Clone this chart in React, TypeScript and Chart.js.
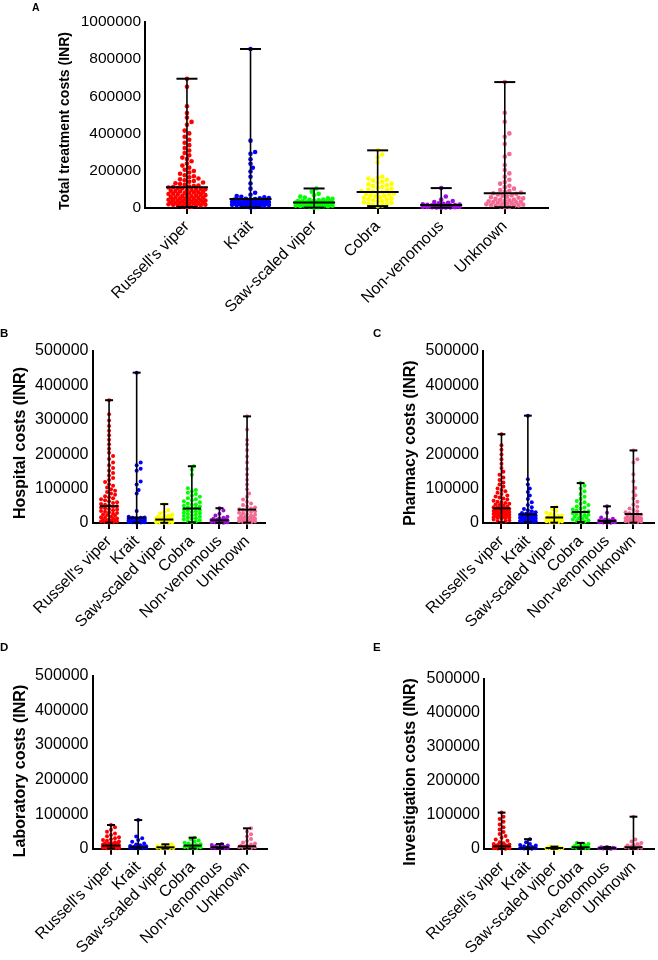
import React, { useEffect, useRef } from "react";
import { Chart, registerables } from "chart.js";
Chart.register(...registerables);

const FONT = "'Liberation Sans', Arial, Helvetica, sans-serif";

const categories = ["Russell's viper", "Krait", "Saw-scaled viper", "Cobra", "Non-venomous", "Unknown"];
const colorsTotal = ["#ff0000", "#0000ff", "#00ff00", "#ffff00", "#9b10d8", "#f26b93"];
const colorsSub = ["#ff0000", "#0000ff", "#ffff00", "#00ff00", "#9b10d8", "#f26b93"];

const ticksTotal = [0, 200000, 400000, 600000, 800000, 1000000];
const ticksSub = [0, 100000, 200000, 300000, 400000, 500000];

// ---- A: total treatment costs ----
const totalRV = [695000, 652000, 547000, 511000, 486000, 463000, 447000, 416000, 401000, 383000, 367000, 351000, 338000, 322000, 309000, 296000, 284000, 271000, 263000, 251000, 239000, 228000, 217000, 206000, 199000, 191000, 184000, 176000, 171000, 165000, 159000, 154000, 149000, 145000, 141000, 137000, 133000, 129000, 125000, 121000, 118000, 115000, 112000, 110000, 107000, 105000, 103000, 101000, 99000, 97000, 95000, 93000, 91000, 89000, 87000, 85000, 83000, 81000, 79000, 77000, 75000, 73000, 71000, 69000, 67000, 65000, 63000, 61000, 59000, 57000, 55000, 54000, 52000, 50000, 49000, 47000, 45000, 44000, 42000, 40000, 39000, 37000, 36000, 34000, 33000, 31000, 30000, 28000, 27000, 26000, 24000, 23000, 21000, 20000, 18000, 17000, 15000, 13000, 11000, 9000, 7000, 5000];
const totalKrait = [855000, 362000, 301000, 292000, 262000, 238000, 216000, 196000, 168000, 132000, 104000, 82000, 71000, 64000, 60000, 57000, 54000, 52000, 50000, 48000, 47000, 45000, 44000, 42000, 41000, 40000, 38000, 37000, 36000, 34000, 33000, 32000, 30000, 29000, 28000, 27000, 26000, 25000, 24000, 23000, 22000, 21000, 20000, 19000, 18500, 18000, 17000, 16000, 15000, 14000, 12000, 10000, 8000, 6000, 3000];
const totalSSV = [105000, 88000, 76000, 68000, 61000, 56000, 52000, 49000, 46000, 44000, 42000, 40000, 38000, 37000, 36000, 35000, 34000, 33000, 32000, 31000, 30000, 29000, 28000, 27000, 26000, 25000, 24000, 23000, 22000, 21000, 20000, 19000, 18000, 17000, 16000, 15000, 14000, 13000, 12000, 11000, 10000, 9000, 8000, 6000, 4000, 2000];
const totalCobra = [310000, 288000, 272000, 245000, 168000, 163000, 158000, 152000, 147000, 141000, 136000, 131000, 127000, 122000, 118000, 113000, 108000, 104000, 99000, 95000, 91000, 88000, 85000, 82000, 78000, 75000, 72000, 68000, 65000, 62000, 58000, 55000, 52000, 48000, 45000, 42000, 38000, 35000, 31000, 28000, 24000, 21000, 17000, 14000, 10000];
const totalNV = [107000, 62000, 45000, 38000, 32000, 28000, 25000, 22000, 20000, 18000, 17000, 16000, 15000, 14000, 13000, 12000, 11500, 11000, 10000, 9500, 9000, 8000, 7500, 7000, 6500, 6000, 5500, 5000, 4500, 4000, 3500, 3000, 2500, 2000];
const totalUnknown = [677000, 512000, 464000, 401000, 383000, 344000, 290000, 276000, 231000, 204000, 186000, 168000, 152000, 140000, 131000, 120000, 112000, 104000, 97000, 92000, 87000, 83000, 79000, 76000, 72000, 68000, 65000, 61000, 58000, 55000, 52000, 49000, 46000, 44000, 41000, 39000, 36000, 34000, 32000, 30000, 28000, 26000, 24000, 22000, 20000, 18000, 16000, 14000, 12000, 10000, 8000, 6000, 4000];
const totalMedian = [112000, 48000, 30000, 86000, 16000, 79000];
const totalMin = [5000, 3000, 2000, 10000, 2000, 4000];
const totalMax = [695000, 855000, 105000, 310000, 107000, 677000];

// ---- B: hospital costs ----
const hospRV = [357000, 316000, 298000, 282000, 268000, 255000, 242000, 229000, 216000, 204000, 195000, 186000, 176000, 168000, 160000, 152000, 145000, 138000, 131000, 125000, 119000, 113000, 108000, 103000, 98000, 94000, 90000, 86000, 82000, 78000, 75000, 72000, 69000, 66000, 63000, 60000, 58000, 55000, 53000, 51000, 49000, 47000, 45000, 43000, 41000, 39000, 37000, 35000, 33000, 31000, 29000, 27000, 25000, 23000, 21000, 19000, 17000, 15000, 13000, 12000, 10000, 9000, 8000, 7000, 6000, 5000, 4000, 3000, 2000, 1000];
const hospKrait = [437000, 176000, 168000, 158000, 152000, 121000, 112000, 96000, 86000, 35000, 18000, 16000, 15500, 15000, 14500, 14000, 13500, 13000, 12500, 12000, 11500, 11000, 10500, 10000, 9500, 9000, 8500, 8000, 7500, 7000, 6500, 6000, 5500, 5000, 4500, 4000, 3500, 3000, 2500, 2000, 1500, 1000];
const hospSSV = [55000, 38000, 32000, 28000, 25000, 22000, 20000, 18000, 17000, 16000, 15000, 14000, 13000, 12000, 11000, 10500, 10000, 9500, 9000, 8000, 7500, 7000, 6000, 5500, 5000, 4500, 4000, 3500, 3000, 2500, 2000, 1500, 1000, 500];
const hospCobra = [165000, 155000, 140000, 101000, 96000, 92000, 88000, 84000, 80000, 76000, 72000, 69000, 66000, 63000, 60000, 57000, 54000, 52000, 50000, 48000, 46000, 44000, 42000, 40000, 38000, 36000, 34000, 32000, 30000, 28000, 26000, 24000, 22000, 20000, 18000, 16000, 14000, 12000, 10000, 8000, 6000, 4000, 2000];
const hospNV = [43000, 36000, 27000, 22000, 18000, 15000, 13000, 12000, 11000, 10000, 9000, 8500, 8000, 7500, 7000, 6000, 5500, 5000, 4500, 4000, 3000, 2500, 2000, 1000, 500];
const hospUnknown = [310000, 272000, 241000, 228000, 212000, 193000, 176000, 157000, 141000, 126000, 112000, 98000, 86000, 76000, 68000, 62000, 57000, 52000, 48000, 45000, 42000, 40000, 38000, 36000, 34000, 32000, 30000, 28000, 26000, 24000, 22000, 20000, 18000, 16000, 15000, 14000, 13000, 12000, 11000, 10000, 9000, 8000, 7000, 6000, 5000, 4000, 3000, 2000, 1000];
const hospMedian = [49000, 15000, 10000, 42000, 8000, 39000];
const hospMin = [1000, 1000, 500, 2000, 500, 1000];
const hospMax = [357000, 437000, 55000, 165000, 43000, 310000];

// ---- C: pharmacy costs ----
const pharmRV = [258000, 226000, 213000, 199000, 185000, 172000, 160000, 149000, 140000, 132000, 125000, 118000, 112000, 106000, 100000, 96000, 92000, 88000, 84000, 80000, 77000, 74000, 71000, 68000, 65000, 62000, 60000, 58000, 56000, 54000, 52000, 50000, 48000, 46000, 44000, 43000, 42000, 41000, 40000, 38000, 37000, 36000, 35000, 34000, 33000, 32000, 31000, 30000, 29000, 28000, 27000, 26000, 25000, 24000, 23000, 22000, 21000, 20000, 19000, 18000, 17000, 16000, 15000, 14000, 12000, 10000, 8000, 6000, 4000, 2000];
const pharmKrait = [312000, 127000, 112000, 100000, 90000, 80000, 70000, 60000, 52000, 46000, 41000, 37000, 34000, 31000, 29000, 27000, 26000, 25000, 24000, 23000, 22000, 21000, 20000, 19000, 18000, 17000, 16000, 15000, 14000, 13000, 12000, 11000, 10000, 9000, 8000, 7000, 6000, 5000, 4000, 3000, 2000];
const pharmSSV = [46500, 40000, 35000, 30000, 27000, 24000, 22000, 20000, 18000, 17000, 16000, 15000, 14000, 13000, 12000, 11000, 10000, 9000, 8000, 7000, 6000, 5000, 4000, 3000, 2000, 1000];
const pharmCobra = [116000, 108000, 100000, 92000, 84000, 76000, 70000, 64000, 60000, 56000, 52000, 48000, 45000, 42000, 39000, 36000, 34000, 32000, 30000, 28000, 26000, 24000, 22000, 20000, 18000, 16000, 14000, 12000, 10000, 8000, 6000, 4000, 3000];
const pharmNV = [48500, 30000, 16000, 12000, 10000, 8000, 7000, 6500, 6000, 5500, 5000, 4500, 4000, 3500, 3000, 2500, 2000, 1500, 1000, 500];
const pharmUnknown = [211000, 185000, 176000, 142000, 121000, 102000, 91000, 81000, 71000, 62000, 54000, 47000, 42000, 38000, 34000, 31000, 28000, 26000, 24000, 22000, 20000, 18000, 16000, 15000, 14000, 13000, 12000, 11000, 10000, 9000, 8000, 7000, 6000, 5000, 4000, 3000, 2000, 1000];
const pharmMedian = [42700, 25000, 16000, 32000, 6000, 26000];
const pharmMin = [2000, 2000, 1000, 3000, 500, 1000];
const pharmMax = [258000, 312000, 46500, 116000, 48500, 211000];

// ---- D: laboratory costs ----
const labRV = [68600, 62000, 55000, 49000, 44000, 40000, 36000, 33000, 30000, 27000, 25000, 23000, 21000, 19000, 17000, 16000, 15000, 14000, 13000, 12000, 11000, 10500, 10000, 9500, 9000, 8500, 8000, 7500, 7000, 6500, 6000, 5500, 5000, 4500, 4000, 3500, 3000, 2500, 2000, 1500, 1000, 500];
const labKrait = [83000, 35000, 30000, 25000, 20000, 15000, 12000, 10000, 8000, 7000, 6000, 5500, 5000, 4500, 4000, 3500, 3000, 2500, 2000, 1500, 1000, 500];
const labSSV = [12700, 11000, 9000, 8000, 7000, 6000, 5500, 5000, 4500, 4000, 3500, 3000, 2500, 2000, 1500, 1000, 500];
const labCobra = [32000, 28000, 24000, 20000, 17000, 15000, 13000, 11000, 10000, 9000, 8000, 7000, 6000, 5000, 4000, 3000, 2000, 1000];
const labNV = [13600, 11000, 9000, 7500, 6000, 5000, 4500, 4000, 3500, 3000, 2500, 2000, 1500, 1000, 500];
const labUnknown = [59000, 50000, 42000, 35000, 28000, 22000, 18000, 15000, 12000, 10000, 9000, 8000, 7000, 6000, 5000, 4000, 3000, 2000, 1000];
const labMedian = [9000, 4000, 4000, 9000, 4000, 7000];
const labMin = [500, 500, 500, 500, 500, 500];
const labMax = [68600, 83000, 12700, 32000, 13600, 59000];

// ---- E: investigation costs ----
const invRV = [107000, 95000, 88000, 80000, 72000, 64000, 57000, 50000, 44000, 38000, 33000, 28000, 24000, 20000, 17000, 15000, 13000, 12000, 11000, 10000, 9000, 8500, 8000, 7500, 7000, 6500, 6000, 5500, 5000, 4500, 4000, 3500, 3000, 2500, 2000, 1500, 1000, 500];
const invKrait = [29000, 20000, 15000, 12000, 10000, 8000, 6000, 5000, 4500, 4000, 3500, 3000, 2500, 2000, 1500, 1000, 500];
const invSSV = [7000, 6000, 5000, 4500, 4000, 3500, 3000, 2500, 2000, 1500, 1000, 500];
const invCobra = [18000, 15000, 12000, 10000, 9000, 8000, 7000, 6000, 5000, 4000, 3000, 2000, 1000];
const invNV = [6000, 5000, 4000, 3500, 3000, 2500, 2000, 1500, 1000, 500];
const invUnknown = [95000, 28000, 22000, 18000, 15000, 12000, 10000, 8000, 7000, 6000, 5000, 4000, 3000, 2000, 1000];
const invMedian = [8000, 3000, 3000, 5000, 2500, 5000];
const invMin = [500, 500, 500, 500, 500, 500];
const invMax = [107000, 29000, 7000, 18000, 6000, 95000];

interface PanelSpec {
  key: string;
  title: string;
  titleSize: number;
  titleX: number;
  titleY: number;
  series: number[][];
  colors: string[];
  median: number[];
  min: number[];
  max: number[];
  ticks: number[];
  canvas: { left: number; top: number; w: number; h: number };
  axis: { left: number; right: number; top: number; bottom: number };
  xMin: number;
  xMax: number;
  tickSize: number;
  xLabelSize: number;
  radius: number;
  swarmHalf: number;
  medianHalf: number;
  capHalf: number;
}

const panels: PanelSpec[] = [
  {
    key: "A", title: "Total treatment costs (INR)", titleSize: 14, titleX: 65, titleY: 121,
    series: [totalRV, totalKrait, totalSSV, totalCobra, totalNV, totalUnknown], colors: colorsTotal,
    median: totalMedian, min: totalMin, max: totalMax, ticks: ticksTotal,
    canvas: { left: 0, top: 0, w: 658, h: 345 },
    axis: { left: 145, right: 548, top: 22, bottom: 208 },
    xMin: -0.66, xMax: 5.68, tickSize: 15.5, xLabelSize: 16, radius: 2.3, swarmHalf: 19, medianHalf: 21, capHalf: 10.5,
  },
  {
    key: "B", title: "Hospital costs (INR)", titleSize: 16, titleX: 21, titleY: 443,
    series: [hospRV, hospKrait, hospSSV, hospCobra, hospNV, hospUnknown], colors: colorsSub,
    median: hospMedian, min: hospMin, max: hospMax, ticks: ticksSub,
    canvas: { left: 0, top: 300, w: 330, h: 360 },
    axis: { left: 92.5, right: 265, top: 351, bottom: 523 },
    xMin: -0.6, xMax: 5.65, tickSize: 16, xLabelSize: 16, radius: 2, swarmHalf: 8, medianHalf: 9, capHalf: 4,
  },
  {
    key: "C", title: "Pharmacy costs (INR)", titleSize: 16, titleX: 411, titleY: 443,
    series: [pharmRV, pharmKrait, pharmSSV, pharmCobra, pharmNV, pharmUnknown], colors: colorsSub,
    median: pharmMedian, min: pharmMin, max: pharmMax, ticks: ticksSub,
    canvas: { left: 330, top: 300, w: 328, h: 360 },
    axis: { left: 483, right: 658, top: 351, bottom: 523 },
    xMin: -0.7, xMax: 5.78, tickSize: 16, xLabelSize: 16, radius: 2, swarmHalf: 8, medianHalf: 9, capHalf: 4,
  },
  {
    key: "D", title: "Laboratory costs (INR)", titleSize: 16, titleX: 21, titleY: 771,
    series: [labRV, labKrait, labSSV, labCobra, labNV, labUnknown], colors: colorsSub,
    median: labMedian, min: labMin, max: labMax, ticks: ticksSub,
    canvas: { left: 0, top: 620, w: 330, h: 340 },
    axis: { left: 92.5, right: 267, top: 676, bottom: 848.7 },
    xMin: -0.68, xMax: 5.735, tickSize: 16, xLabelSize: 16, radius: 2, swarmHalf: 8, medianHalf: 9, capHalf: 4,
  },
  {
    key: "E", title: "Investigation costs (INR)", titleSize: 16, titleX: 411, titleY: 772,
    series: [invRV, invKrait, invSSV, invCobra, invNV, invUnknown], colors: colorsSub,
    median: invMedian, min: invMin, max: invMax, ticks: ticksSub,
    canvas: { left: 330, top: 620, w: 328, h: 340 },
    axis: { left: 484, right: 658, top: 679, bottom: 849 },
    xMin: -0.667, xMax: 5.778, tickSize: 16, xLabelSize: 16, radius: 2, swarmHalf: 8, medianHalf: 9, capHalf: 4,
  },
];

const letters = [
  { text: "A", left: 32, top: 1.5, size: 10.5 },
  { text: "B", left: 0, top: 327.5, size: 11.5 },
  { text: "C", left: 373, top: 327.5, size: 11.5 },
  { text: "D", left: 0, top: 641.5, size: 11.5 },
  { text: "E", left: 373, top: 641.5, size: 11.5 },
];

function beeswarm(values: number[], pxPerVal: number, d: number, maxHalf: number): number[] {
  const order = values.map((_, i) => i).sort((a, b) => values[a] - values[b]);
  const placed: { x: number; y: number }[] = [];
  const out = new Array(values.length).fill(0);
  const step = d * 0.5;
  const slots = Math.max(0, Math.floor(maxHalf / step));
  for (const i of order) {
    const y = values[i] * pxPerVal;
    let bestX = 0;
    let bestGap = -1;
    for (let k = 0; k <= slots * 2; k++) {
      const x = k === 0 ? 0 : (k % 2 === 1 ? 1 : -1) * Math.ceil(k / 2) * step;
      let gap = Infinity;
      for (const p of placed) {
        const dy = p.y - y;
        if (Math.abs(dy) >= d) continue;
        const g = Math.hypot(p.x - x, dy);
        if (g < gap) gap = g;
      }
      if (gap >= d * 0.95) { bestX = x; bestGap = gap; break; }
      if (gap > bestGap) { bestGap = gap; bestX = x; }
    }
    placed.push({ x: bestX, y });
    out[i] = bestX;
  }
  return out;
}

function buildChart(canvas: HTMLCanvasElement, spec: PanelSpec) {
  const { axis, canvas: cv } = spec;
  const yMax = spec.ticks[spec.ticks.length - 1];
  const pxPerCat = (axis.right - axis.left) / (spec.xMax - spec.xMin);
  const pxPerVal = (axis.bottom - axis.top) / yMax;
  const yW = axis.left - cv.left;
  const chartTop = axis.top - cv.top;
  const chartBottom = axis.bottom - cv.top;
  const xH = cv.h - chartBottom;

  const datasets: any[] = [];
  const seg = (pts: { x: number; y: number }[], w: number) =>
    datasets.push({ data: pts, showLine: true, pointRadius: 0, borderColor: "#000", borderWidth: w, clip: false, order: 0, borderCapStyle: "butt" });
  spec.series.forEach((_, i) => {
    seg([{ x: i, y: spec.min[i] }, { x: i, y: spec.max[i] }], 1.6);
    const c = spec.capHalf / pxPerCat;
    const m = spec.medianHalf / pxPerCat;
    seg([{ x: i - c, y: spec.max[i] }, { x: i + c, y: spec.max[i] }], 2);
    seg([{ x: i - c, y: spec.min[i] }, { x: i + c, y: spec.min[i] }], 2);
    seg([{ x: i - m, y: spec.median[i] }, { x: i + m, y: spec.median[i] }], 2);
  });
  spec.series.forEach((vals, i) => {
    const offs = beeswarm(vals, pxPerVal, spec.radius * 2, spec.swarmHalf);
    datasets.push({
      data: vals.map((v, k) => ({ x: i + offs[k] / pxPerCat, y: v })),
      pointRadius: spec.radius,
      pointBackgroundColor: spec.colors[i],
      pointBorderWidth: 0,
      showLine: false,
      clip: false,
      order: 1,
    });
  });

  const titlePlugin = {
    id: "yTitle" + spec.key,
    afterDraw(chart: any) {
      const ctx = chart.ctx;
      ctx.save();
      ctx.translate(spec.titleX - cv.left, spec.titleY - cv.top);
      ctx.rotate(-Math.PI / 2);
      ctx.font = `bold ${spec.titleSize}px ${FONT}`;
      ctx.fillStyle = "#000";
      ctx.textAlign = "center";
      ctx.textBaseline = "middle";
      ctx.fillText(spec.title, 0, 0);
      ctx.restore();
    },
  };

  return new Chart(canvas, {
    type: "scatter",
    data: { datasets },
    plugins: [titlePlugin],
    options: {
      responsive: false,
      animation: false,
      devicePixelRatio: 1,
      events: [],
      layout: {
        padding: {
          left: 0,
          top: chartTop,
          right: cv.w - (axis.right - cv.left),
          bottom: 0,
        },
      },
      plugins: { legend: { display: false }, tooltip: { enabled: false } },
      scales: {
        x: {
          type: "linear",
          position: "bottom",
          min: spec.xMin,
          max: spec.xMax,
          afterBuildTicks: (s: any) => {
            s.ticks = categories.map((_, i) => ({ value: i }));
          },
          afterFit: (s: any) => {
            s.height = xH;
            s.paddingLeft = 0;
            s.paddingRight = 0;
          },
          ticks: {
            autoSkip: false,
            minRotation: 45,
            maxRotation: 45,
            padding: 3,
            color: "#000",
            font: { family: FONT, size: spec.xLabelSize },
            callback: (v: any) => categories[Math.round(Number(v))] ?? "",
          },
          grid: { display: true, drawOnChartArea: false, drawTicks: true, tickLength: 6, color: "#000", lineWidth: 2 },
          border: { display: true, color: "#000", width: 2 },
        },
        y: {
          type: "linear",
          min: 0,
          max: yMax,
          afterBuildTicks: (s: any) => {
            s.ticks = spec.ticks.map((v) => ({ value: v }));
          },
          afterFit: (s: any) => {
            s.width = yW;
            s.paddingTop = 0;
            s.paddingBottom = 0;
          },
          ticks: {
            padding: 4,
            color: "#000",
            font: { family: FONT, size: spec.tickSize },
            callback: (v: any) => String(v),
          },
          grid: { display: true, drawOnChartArea: false, drawTicks: false },
          border: { display: true, color: "#000", width: 2 },
        },
      },
    } as any,
  });
}

function Panel({ spec }: { spec: PanelSpec }) {
  const ref = useRef<HTMLCanvasElement | null>(null);
  useEffect(() => {
    if (!ref.current) return;
    const chart = buildChart(ref.current, spec);
    return () => chart.destroy();
  }, [spec]);
  const { left, top, w, h } = spec.canvas;
  return (
    <canvas
      ref={ref}
      width={w}
      height={h}
      style={{ position: "absolute", left, top, width: w, height: h }}
    />
  );
}

export default function App() {
  return (
    <div style={{ position: "fixed", left: 0, top: 0, width: 658, height: 960, background: "#fff", overflow: "hidden" }}>
      {panels.map((p) => (
        <Panel key={p.key} spec={p} />
      ))}
      {letters.map((l) => (
        <div
          key={l.text}
          style={{
            position: "absolute",
            left: l.left,
            top: l.top,
            fontFamily: FONT,
            fontWeight: "bold",
            fontSize: l.size,
            lineHeight: 1,
            color: "#000",
          }}
        >
          {l.text}
        </div>
      ))}
    </div>
  );
}
